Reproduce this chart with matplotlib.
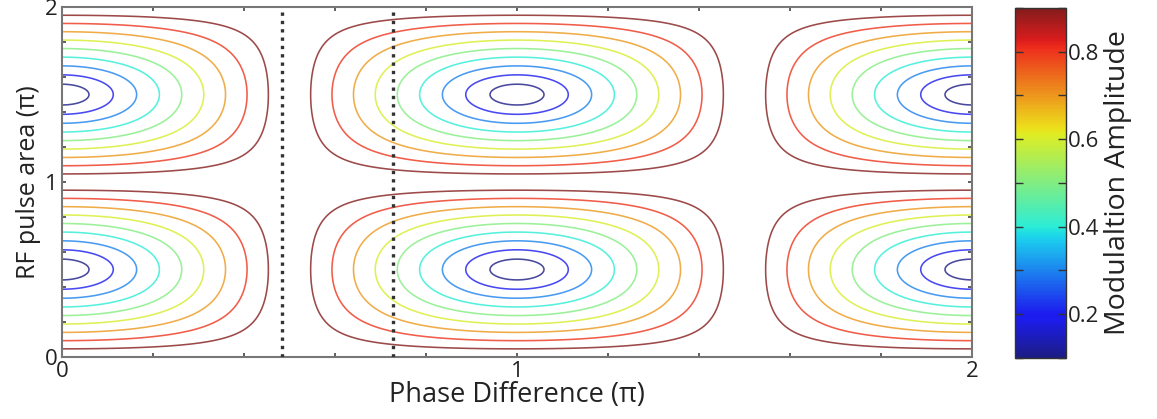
import numpy as np
import matplotlib
matplotlib.use("Agg")
import matplotlib.pyplot as plt
from matplotlib import cm, colors

plt.rcParams["font.family"] = ["Open Sans", "DejaVu Sans"]

# Axis ticks (in units of pi)
phase_ticks = [0.0, 0.2, 0.4, 0.6, 0.8, 1.0, 1.2, 1.4, 1.6, 1.8, 2.0]
phase_labels = ["0", "", "", "", "", "1", "", "", "", "", "2"]
area_ticks = [0.0, 0.2, 0.4, 0.6, 0.8, 1.0, 1.2, 1.4, 1.6, 1.8, 2.0]
area_labels = ["0", "", "", "", "", "1", "", "", "", "", "2"]

# Contour levels of the modulation amplitude and colour range
contour_levels = [0.1, 0.2, 0.3, 0.4, 0.5, 0.6, 0.7, 0.8, 0.9]
amp_min, amp_max = 0.1, 0.9
cbar_ticks = [0.1, 0.2, 0.3, 0.4, 0.5, 0.6, 0.7, 0.8, 0.9]
cbar_labels = ["", "0.2", "", "0.4", "", "0.6", "", "0.8", ""]

# Phase differences marked by dotted guide lines
marker_phases = [0.483, 0.727]

# Model parameter for the amplitude map
shape_exponent = 1.08

# Amplitude map over phase difference and pulse area
phase = np.linspace(0, 2, 801)
area = np.linspace(0, 2, 801)
P, A = np.meshgrid(phase, area)
overlap = np.clip(np.abs(np.cos(np.pi * P) * np.sin(np.pi * A)), 0, 1)
amplitude = (2 / np.pi * np.arccos(overlap)) ** shape_exponent

# Slightly softened jet colour map
soft_jet = colors.LinearSegmentedColormap.from_list(
    "jet_soft", [0.82 * np.array(cm.jet(v)[:3]) + 0.18 * np.array([0.6, 0.6, 0.62])
                 for v in np.linspace(0, 1, 256)])

fig = plt.figure(figsize=(11.57, 4.19), dpi=100)
ax = fig.add_axes([0.0536, 0.148, 0.7865, 0.835])
norm = colors.Normalize(vmin=amp_min, vmax=amp_max)

ax.contour(P, A, amplitude, levels=contour_levels, cmap=soft_jet, norm=norm,
           linewidths=1.15, alpha=0.8)
for xp in marker_phases:
    ax.axvline(xp, color="#333333", lw=2.4, linestyle=(0, (1, 1.5)), zorder=3)

ax.set_xlim(0, 2)
ax.set_ylim(0, 2)
ax.set_xticks(phase_ticks)
ax.set_xticklabels(phase_labels)
ax.set_yticks(area_ticks)
ax.set_yticklabels(area_labels)
ax.tick_params(direction="in", length=3, width=1.2, top=True, right=True,
               labelsize=16, color="#444444", labelcolor="#222222", pad=3)
for s in ax.spines.values():
    s.set_color("#777777")
    s.set_linewidth(1.5)
ax.set_xlabel("Phase Difference (\u03c0)", fontsize=19.5, color="#222222", labelpad=-1)
ax.set_ylabel("RF pulse area (\u03c0)", fontsize=18, color="#222222", labelpad=3)

cax = fig.add_axes([0.877, 0.146, 0.044, 0.835])
cb = fig.colorbar(cm.ScalarMappable(norm=norm, cmap=soft_jet), cax=cax)
cb.set_ticks(cbar_ticks)
cb.set_ticklabels(cbar_labels)
cax.tick_params(direction="in", length=6, width=1.0, left=True, right=True,
                labelsize=16, color="#333333", labelcolor="#222222", pad=2)
cb.outline.set_edgecolor("#333333")
cb.outline.set_linewidth(1.0)
cb.set_label("Modulaltion Amplitude", fontsize=20.5, color="#222222", labelpad=3)

fig.savefig("out.png", dpi=100)
